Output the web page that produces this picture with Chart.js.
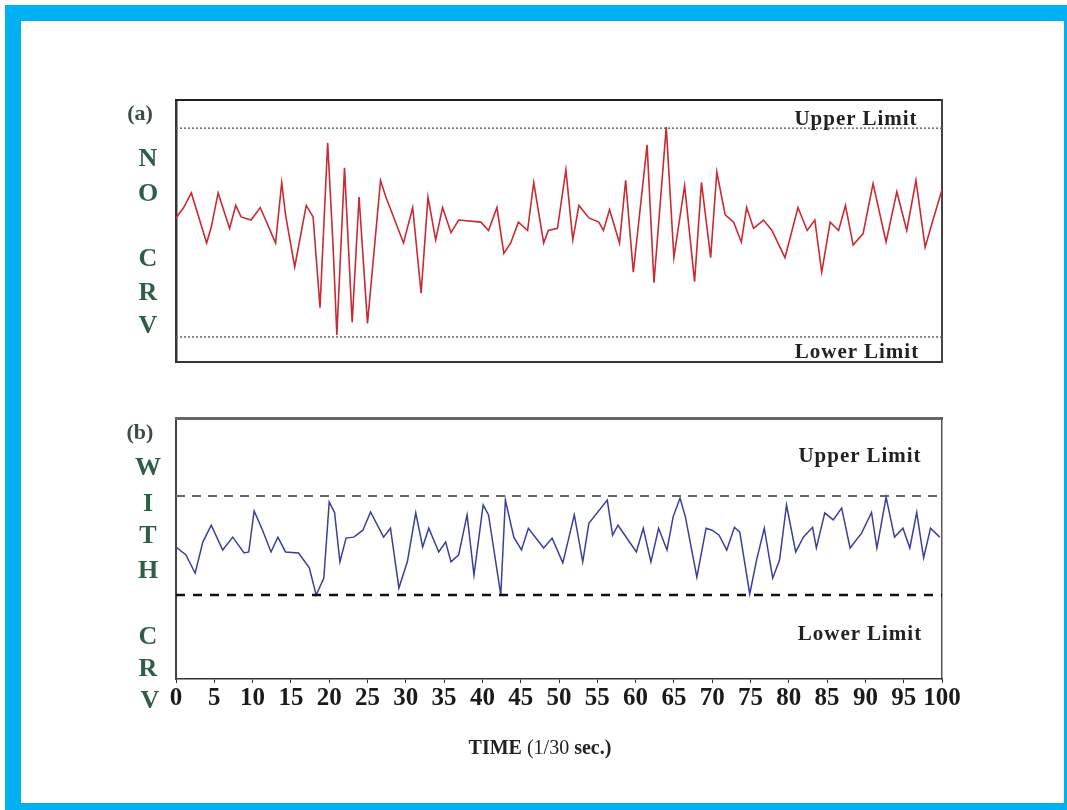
<!DOCTYPE html>
<html lang="en">
<head>
    <meta charset="UTF-8">
    <title>CRV - NO CRV / WITH CRV</title>
    <script src="https://cdn.jsdelivr.net/npm/chart.js@4.4.1/dist/chart.umd.min.js"></script>
    <style>
        html, body{
            margin: 0;
            padding: 0;
            width: 1067px;
            height: 810px;
            overflow: hidden;
            background: #fff;
            font-family: "Liberation Serif", serif;
        }
        #frame{
            position: absolute;
            left: 5px;
            top: 5px;
            width: 1075px;
            height: 814px;
            box-sizing: border-box;
            border: 16px solid #00b0f0;
        }
        .box{
            position: absolute;
            left: 156px;
            width: 806px;
        }
        .side{
            position: absolute;
            left: 128px;
            width: 40px;
            text-align: center;
            line-height: 1;
            transform: translateY(-50%);
            font-weight: bold;
            font-size: 26px;
            color: #2f5e47;
        }
        .side.tag{
            left: 120px;
            font-size: 22px;
            color: #3b4d44;
        }
        .lim{
            position: absolute;
            width: 200px;
            text-align: center;
            line-height: 1;
            transform: translate(-50%, -50%);
            font-weight: bold;
            font-size: 21px;
            letter-spacing: 1px;
            color: #222;
        }
        #time{
            position: absolute;
            left: 440px;
            width: 200px;
            top: 736px;
            text-align: center;
            font-size: 20px;
            color: #222;
            white-space: nowrap;
        }
    </style>
</head>
<body>
<div id="frame"></div>

<div class="box" style="top: 80px; height: 302px;"><canvas id="chartA"></canvas></div>
<div class="box" style="top: 398px; height: 341px;"><canvas id="chartB"></canvas></div>

<!-- side letters -->
<div class="side tag" style="top:113px;">(a)</div>
<div class="side" style="top:158px;">N</div>
<div class="side" style="top:193px;">O</div>
<div class="side" style="top:258px;">C</div>
<div class="side" style="top:292px;">R</div>
<div class="side" style="top:325px;">V</div>

<div class="side tag" style="top:432px;">(b)</div>
<div class="side" style="top:467px;">W</div>
<div class="side" style="top:503px;">I</div>
<div class="side" style="top:535px;">T</div>
<div class="side" style="top:570px;">H</div>
<div class="side" style="top:636px;">C</div>
<div class="side" style="top:668px;">R</div>
<div class="side" style="top:700px; left:130px;">V</div>

<div class="lim" style="left:856px; top:118px;">Upper Limit</div>
<div class="lim" style="left:857px; top:351px;">Lower Limit</div>
<div class="lim" style="left:860px; top:455px;">Upper Limit</div>
<div class="lim" style="left:860px; top:633px;">Lower Limit</div>

<div id="time"><b>TIME</b> (1/30 <b>sec.)</b></div>

<script>
    // (a) no CRV - time (1/30 sec) and signal, limits at +1 / -1
    var timeA = [0, 1, 2, 4, 4.6, 5.5, 7, 7.8, 8.5, 9.8, 11, 13, 13.8, 14.3, 15.5, 17, 17.9, 18.8, 19.8, 20.5,
        21, 22, 23, 23.9, 25, 26.7, 27.4, 29.7, 30.9, 32, 32.9, 33.9, 34.8, 35.9, 36.9, 39.8, 40.8, 41.9, 42.8, 43.7,
        44.7, 45.9, 46.7, 48, 48.6, 49.8, 50.9, 51.8, 52.6, 53.9, 55.2, 55.8, 56.6, 57.9, 58.7, 59.7, 61.5, 62.4, 64, 65,
        66.4, 67.7, 68.6, 69.8, 70.6, 71.7, 72.8, 73.8, 74.5, 75.4, 76.7, 77.8, 79.5, 81.2, 82.4, 83.4, 84.3, 85.4, 86.5, 87.4,
        88.4, 89.7, 91, 92.7, 94.1, 95.4, 96.6, 97.8, 98.7, 100];
    var noCrv = [0.14, 0.24, 0.38, -0.10, 0.05, 0.38, 0.04, 0.26, 0.15, 0.12, 0.24, -0.10, 0.48, 0.17, -0.33, 0.26, 0.15, -0.72, 0.86, -0.12,
        -0.98, 0.62, -0.86, 0.34, -0.87, 0.50, 0.34, -0.10, 0.24, -0.58, 0.34, -0.07, 0.24, 0.00, 0.12, 0.10, 0.02, 0.24, -0.20, -0.10,
        0.10, 0.02, 0.48, -0.10, 0.02, 0.04, 0.60, -0.07, 0.26, 0.14, 0.10, 0.02, 0.22, -0.10, 0.50, -0.38, 0.84, -0.48, 1.01, -0.24,
        0.45, -0.47, 0.48, -0.24, 0.58, 0.17, 0.10, -0.09, 0.24, 0.04, 0.12, 0.02, -0.24, 0.24, 0.02, 0.12, -0.38, 0.10, 0.02, 0.26,
        -0.12, -0.01, 0.47, -0.09, 0.39, 0.02, 0.50, -0.14, 0.09, 0.41];

    // (b) with CRV
    var timeB = [0, 1.3, 2.5, 3.5, 4.6, 6.1, 7.4, 8.9, 9.5, 10.2, 11.3, 12.4, 13.3, 14.3, 16, 17.4, 18.3, 19.3, 20, 20.7,
        21.4, 22.2, 23.2, 24.4, 25.4, 27.1, 28, 29.1, 30.2, 31.3, 32.2, 33, 34.3, 35.2, 35.9, 36.9, 38, 38.9, 40.1, 40.8,
        42.4, 43, 44.1, 45.1, 46, 48, 49.1, 50.5, 52, 53.1, 53.9, 56.3, 57, 57.7, 60.1, 61, 62, 63, 64.1, 64.9,
        65.8, 66.5, 68, 69.2, 70, 70.9, 71.9, 72.9, 73.6, 74.9, 75.8, 76.8, 77.9, 78.8, 79.7, 80.9, 81.9, 83.1, 83.6, 84.7,
        85.8, 86.9, 88, 89.5, 90.8, 91.5, 92, 92.7, 93.8, 94.9, 95.8, 96.7, 97.6, 98.5, 99.7];
    var withCrv = [-0.03, -0.19, -0.56, 0.07, 0.41, -0.09, 0.17, -0.15, -0.13, 0.70, 0.31, -0.13, 0.17, -0.13, -0.15, -0.45, -1.00, -0.66, 0.88, 0.67,
        -0.33, 0.15, 0.17, 0.31, 0.68, 0.17, 0.35, -0.86, -0.33, 0.66, -0.03, 0.35, -0.13, 0.07, -0.33, -0.19, 0.62, -0.60, 0.82, 0.62,
        -1.00, 0.92, 0.17, -0.09, 0.35, -0.05, 0.15, -0.35, 0.62, -0.33, 0.45, 0.92, 0.21, 0.41, -0.13, 0.35, -0.33, 0.35, -0.09, 0.58,
        0.96, 0.58, -0.64, 0.35, 0.31, 0.21, -0.09, 0.37, 0.27, -0.98, -0.29, 0.35, -0.66, -0.29, 0.82, -0.13, 0.17, 0.37, -0.05, 0.66,
        0.52, 0.76, -0.05, 0.25, 0.67, -0.05, 0.37, 0.98, 0.17, 0.35, -0.05, 0.67, -0.25, 0.35, 0.17];

    var limitX = [0, 100];
    var upperLimit = [1, 1];
    var lowerLimit = [-1, -1];
    var xTicks = [0, 5, 10, 15, 20, 25, 30, 35, 40, 45, 50, 55, 60, 65, 70, 75, 80, 85, 90, 95, 100];

    function pairs(xs, ys) {
        return xs.map(function (x, i) { return {x: x, y: ys[i]}; });
    }

    function edge(pos, color, width) {
        return {
            type: 'linear',
            position: pos,
            display: true,
            ticks: {display: false},
            grid: {display: false, drawTicks: false, tickLength: 0},
            border: {display: true, color: color, width: width}
        };
    }

    function lineSet(data, color, width, dash) {
        return {
            data: data,
            borderColor: color,
            borderWidth: width,
            borderDash: dash || [],
            pointRadius: 0,
            tension: 0,
            fill: false
        };
    }

    // chart (a)
    var xA = edge('bottom', '#333', 2);
    xA.min = 0; xA.max = 100;
    var yA = edge('left', '#333', 2.5);
    yA.min = -1.24; yA.max = 1.27;
    var topA = edge('top', '#222', 2);
    var rightA = edge('right', '#444', 2);

    new Chart(document.getElementById('chartA'), {
        type: 'line',
        data: {
            datasets: [
                lineSet(pairs(limitX, upperLimit), '#666', 1.5, [2, 2]),
                lineSet(pairs(limitX, lowerLimit), '#666', 1.5, [2, 2]),
                lineSet(pairs(timeA, noCrv), '#c92a33', 1.6)
            ]
        },
        options: {
            responsive: true,
            maintainAspectRatio: false,
            animation: false,
            layout: {padding: {left: 20, right: 20, top: 20, bottom: 20}},
            plugins: {legend: {display: false}, tooltip: {enabled: false}},
            scales: {x: xA, y: yA, x2: topA, y2: rightA}
        }
    });

    // chart (b)
    var xB = {
        type: 'linear',
        position: 'bottom',
        min: 0,
        max: 100,
        afterBuildTicks: function (scale) {
            scale.ticks = xTicks.map(function (v) { return {value: v}; });
        },
        afterFit: function (scale) { scale.height = 40; },
        ticks: {
            padding: 1,
            autoSkip: false,
            maxRotation: 0,
            minRotation: 0,
            color: '#1a1a1a',
            font: {family: 'Liberation Serif', size: 25, weight: 'bold'}
        },
        grid: {display: true, drawOnChartArea: false, drawTicks: true, tickLength: 4, color: '#333'},
        border: {display: true, color: '#333', width: 1.5}
    };
    var yB = edge('left', '#444', 2);
    yB.min = -2.7; yB.max = 2.58;
    var topB = edge('top', '#666', 3);
    var rightB = edge('right', '#555', 1.5);

    new Chart(document.getElementById('chartB'), {
        type: 'line',
        data: {
            datasets: [
                lineSet(pairs(limitX, upperLimit), '#666', 2, [9, 7]),
                lineSet(pairs(limitX, lowerLimit), '#111', 2.5, [9, 8]),
                lineSet(pairs(timeB, withCrv), '#3b3f9c', 1.5)
            ]
        },
        options: {
            responsive: true,
            maintainAspectRatio: false,
            animation: false,
            layout: {padding: {left: 20, right: 20, top: 20, bottom: 20}},
            plugins: {legend: {display: false}, tooltip: {enabled: false}},
            scales: {x: xB, y: yB, x2: topB, y2: rightB}
        }
    });
</script>
</body>
</html>
